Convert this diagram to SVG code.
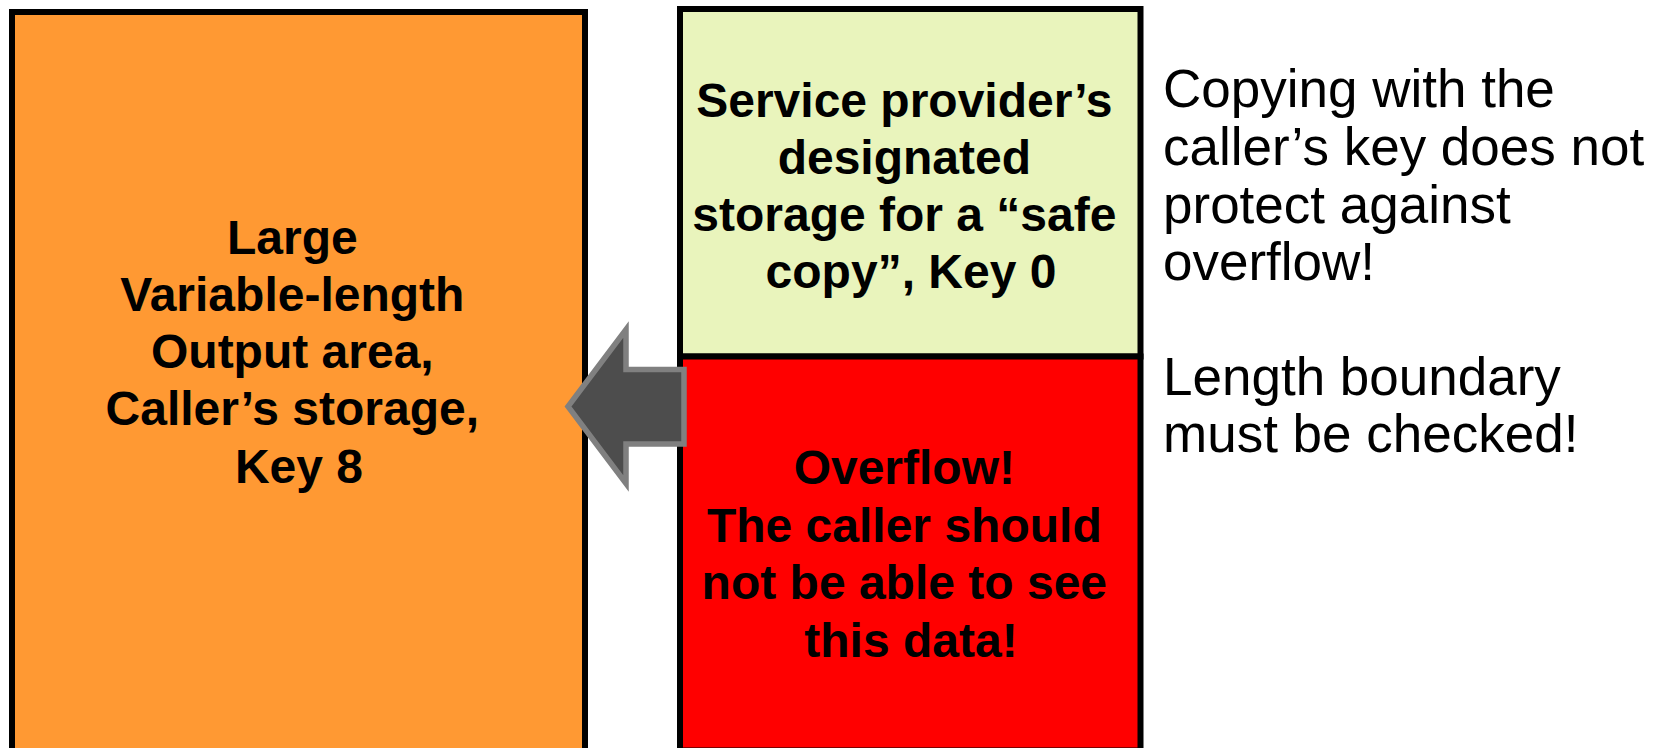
<svg xmlns="http://www.w3.org/2000/svg" width="1662" height="748" viewBox="0 0 1662 748">
  <style>
    .box { stroke: #000000; stroke-width: 6; }
    .bold { font-family: "Liberation Sans", Arial, sans-serif; font-weight: bold; font-size: 48px; fill: #000000; text-anchor: middle; }
    .note { font-family: "Liberation Sans", Arial, sans-serif; font-size: 53px; fill: #000000; }
  </style>
  <rect width="1662" height="748" fill="#ffffff"/>

  <!-- caller's output area -->
  <g id="caller-output">
    <rect class="box" x="12" y="12" width="573" height="739" fill="#FF9933"/>
    <text class="bold">
      <tspan x="299" y="254">Large</tspan>
      <tspan x="299" y="311">Variable-length</tspan>
      <tspan x="299" y="368">Output area,</tspan>
      <tspan x="299" y="425">Caller’s storage,</tspan>
      <tspan x="299" y="483">Key 8</tspan>
    </text>
  </g>

  <!-- provider's safe copy -->
  <g id="safe-copy">
    <rect class="box" x="680" y="9" width="460.5" height="347.5" fill="#E9F4BC"/>
    <text class="bold">
      <tspan x="911" y="117">Service provider’s</tspan>
      <tspan x="911" y="174">designated</tspan>
      <tspan x="911" y="231">storage for a “safe</tspan>
      <tspan x="911" y="288">copy”, Key 0</tspan>
    </text>
  </g>

  <!-- overflow region -->
  <g id="overflow">
    <rect class="box" x="680" y="356.5" width="460.5" height="394" fill="#FF0000"/>
    <text class="bold">
      <tspan x="911" y="484">Overflow!</tspan>
      <tspan x="911" y="542">The caller should</tspan>
      <tspan x="911" y="599">not be able to see</tspan>
      <tspan x="911" y="657">this data!</tspan>
    </text>
  </g>

  <!-- side notes -->
  <g id="notes">
    <text class="note">
      <tspan x="1163" y="107">Copying with the</tspan>
      <tspan x="1163" y="165">caller’s key does not</tspan>
      <tspan x="1163" y="223">protect against</tspan>
      <tspan x="1163" y="280">overflow!</tspan>
      <tspan x="1163" y="395">Length boundary</tspan>
      <tspan x="1163" y="452">must be checked!</tspan>
    </text>
  </g>

  <!-- copy direction -->
  <g id="connectors">
    <path d="M684,369.5 L626,369.5 L626,329.5 L568,406.5 L626,483.5 L626,444 L684,444 Z"
          fill="#4D4D4D" stroke="#808080" stroke-width="5.5" stroke-linejoin="miter"/>
  </g>
</svg>
